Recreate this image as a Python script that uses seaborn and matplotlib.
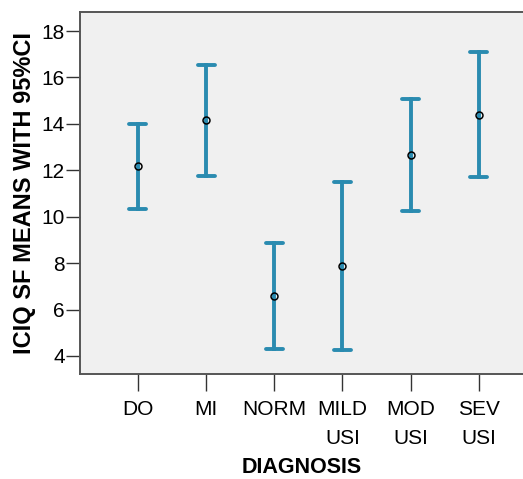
import numpy as np
import pandas as pd
import matplotlib
matplotlib.use("Agg")
import matplotlib.pyplot as plt
import seaborn as sns

# Data: means with lower/upper 95% CI bounds
categories = ['DO', 'MI', 'NORM', 'MILD\nUSI', 'MOD\nUSI', 'SEV\nUSI']
ci_low = [10.33, 11.75, 4.29, 4.25, 10.24, 11.71]
means = [12.18, 14.16, 6.58, 7.87, 12.66, 14.38]
ci_high = [13.99, 16.53, 8.86, 11.49, 15.07, 17.09]
yticks = [4, 6, 8, 10, 12, 14, 16, 18]

bar_color = '#2A8BB0'

sns.set_style('ticks')
plt.rcParams['font.family'] = ['Liberation Sans', 'DejaVu Sans']

# long table: three rows per group, median -> mean, min/max -> CI
df = pd.DataFrame({
    'DIAGNOSIS': np.repeat(categories, 3),
    'VALUE': np.ravel(np.column_stack([ci_low, means, ci_high])),
})

fig = plt.figure(figsize=(5.23, 4.79), dpi=100)
ax = fig.add_axes([0.153, 0.219, 0.847, 0.756])
ax.set_facecolor('#F0F0F0')

sns.pointplot(data=df, x='DIAGNOSIS', y='VALUE', order=categories,
              estimator=np.median, errorbar=lambda v: (v.min(), v.max()),
              color=bar_color, linestyle='none', capsize=0.25,
              err_kws={'linewidth': 2.8}, marker='o', markersize=5,
              markerfacecolor='none', markeredgecolor='black',
              markeredgewidth=1.1, ax=ax)

for ln in ax.lines:
    if ln.get_marker() not in (None, 'None', ''):
        ln.set_zorder(5)

ax.set_xlim(-0.85, 5.65)
ax.set_ylim(3.22, 18.82)
ax.set_yticks(yticks)
ax.set_yticklabels([str(t) for t in yticks])

for s in ['left', 'bottom', 'top']:
    ax.spines[s].set_color('#555555')
    ax.spines[s].set_linewidth(1.4)
ax.spines['right'].set_visible(False)

ax.tick_params(axis='y', length=10, width=1.0, color='#333333', pad=1,
               labelsize=15, labelcolor='black')
ax.tick_params(axis='x', length=12, width=1.0, color='#333333', pad=7,
               labelsize=15, labelcolor='black')
for lab in ax.get_xticklabels():
    lab.set_linespacing(1.65)
    lab.set_verticalalignment('top')

ax.set_xlabel('DIAGNOSIS', fontsize=15.5, fontweight='bold', labelpad=6, color='black')
ax.set_ylabel('ICIQ SF MEANS WITH 95%CI', fontsize=17, fontweight='bold', labelpad=4, color='black')

plt.savefig('out.png', dpi=100)
plt.close()
